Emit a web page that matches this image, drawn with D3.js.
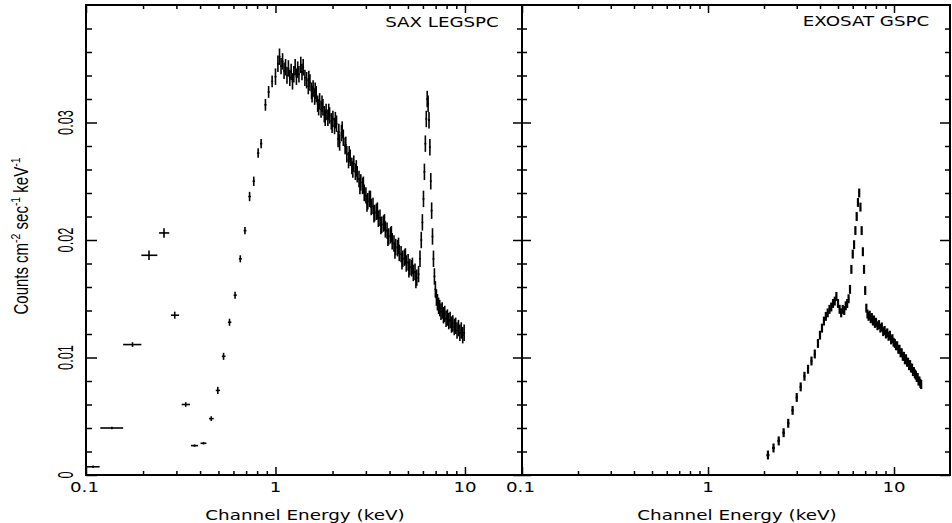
<!DOCTYPE html>
<html><head><meta charset="utf-8">
<script src="https://cdn.jsdelivr.net/npm/d3@7"></script>
<style>body{margin:0;background:#fff}svg{display:block}</style>
</head><body><svg id="c" width="952" height="523"></svg>
<script>
// ---------- data ----------
const xMajorTicks = [0.1, 1, 10];
const xMinorTicks = [0.2,0.3,0.4,0.5,0.6,0.7,0.8,0.9,2,3,4,5,6,7,8,9];
const xTickLabels = ["0.1", "1", "10"];
const yMajorTicks = [0, 0.01, 0.02, 0.03];
const yMinorTicks = [0.002,0.004,0.006,0.008,0.012,0.014,0.016,0.018,0.022,0.024,0.026,0.028,0.032,0.034,0.036,0.038];
const yTickLabels = ["0", "0.01", "0.02", "0.03"];
const panelTitles = ["SAX LEGSPC", "EXOSAT GSPC"];

// SAX LEGSPC – low-energy, wide bins
const saxLowE   = [0.109,0.137,0.176,0.215,0.258,0.294,0.336,0.374,0.417,0.458,0.496,0.532,0.572,0.612,0.652,0.690,0.730,0.768,0.810,0.840,0.885,0.920,0.960];
const saxLowC   = [0.0007,0.0040,0.0111,0.0187,0.0206,0.0136,0.0060,0.0025,0.0027,0.0048,0.0072,0.0101,0.0130,0.0153,0.0184,0.0208,0.0237,0.0250,0.0274,0.0282,0.0315,0.0326,0.0335];
const saxLowElo = [0.100,0.119,0.157,0.196,0.243,0.281,0.320,0.358,0.402,0.446,0.484,0.521,0.561,0.601,0.641,0.679,0.719,0.757,0.799,0.829,0.873,0.909,0.949];
const saxLowEhi = [0.118,0.157,0.196,0.238,0.275,0.310,0.354,0.390,0.432,0.472,0.510,0.545,0.585,0.625,0.664,0.703,0.742,0.780,0.822,0.852,0.897,0.932,0.972];
const saxLowErr = [0.0001,0.0001,0.0002,0.0004,0.0004,0.0003,0.0002,0.0001,0.0001,0.0002,0.0003,0.0003,0.0003,0.0003,0.0003,0.0003,0.0004,0.0004,0.0004,0.0004,0.0005,0.0005,0.0005];

// SAX LEGSPC – dense part 1–10 keV
const saxE = [1.00,1.03,1.05,1.07,1.09,1.11,1.13,1.15,1.17,1.19,1.21,1.23,1.25,1.27,1.29,1.31,1.33,1.36,1.38,1.40,1.43,1.46,1.49,1.52,1.55,1.58,1.61,1.64,1.67,1.71,1.74,1.78,1.81,1.85,1.89,1.93,1.97,2.01,2.05,2.10,2.14,2.18,2.23,2.28,2.33,2.38,2.43,2.48,2.53,2.59,2.64,2.70,2.76,2.82,2.88,2.94,3.00,3.07,3.13,3.20,3.27,3.34,3.41,3.49,3.56,3.64,3.72,3.80,3.88,3.96,4.05,4.13,4.22,4.31,4.41,4.50,4.60,4.70,4.80,4.90,5.01,5.12,5.23,5.34,5.45,5.57,5.69,5.79,5.88,5.96,6.04,6.11,6.18,6.25,6.32,6.39,6.46,6.53,6.60,6.67,6.74,6.82,6.90,6.98,7.07,7.16,7.26,7.36,7.47,7.58,7.70,7.82,7.95,8.08,8.21,8.35,8.49,8.63,8.78,8.93,9.08,9.24,9.40,9.56,9.73,9.90];
const saxC = [0.0339,0.0350,0.0356,0.0348,0.0352,0.0344,0.0347,0.0340,0.0346,0.0338,0.0343,0.0335,0.0341,0.0347,0.0339,0.0345,0.0341,0.0349,0.0343,0.0347,0.0338,0.0336,0.0331,0.0334,0.0327,0.0329,0.0322,0.0324,0.0316,0.0318,0.0311,0.0313,0.0307,0.0309,0.0304,0.0306,0.0301,0.0303,0.0297,0.0299,0.0286,0.0283,0.0291,0.0287,0.0280,0.0273,0.0268,0.0270,0.0263,0.0265,0.0258,0.0256,0.0252,0.0249,0.0246,0.0240,0.0238,0.0233,0.0235,0.0228,0.0229,0.0223,0.0224,0.0218,0.0219,0.0213,0.0214,0.0209,0.0208,0.0203,0.0204,0.0199,0.0197,0.0194,0.0193,0.0189,0.0188,0.0184,0.0185,0.0180,0.0181,0.0177,0.0176,0.0172,0.0173,0.0168,0.0171,0.0184,0.0200,0.0215,0.0235,0.0258,0.0282,0.0303,0.0320,0.0316,0.0302,0.0279,0.0250,0.0225,0.0203,0.0184,0.0169,0.0158,0.0151,0.0147,0.0144,0.0142,0.0139,0.0140,0.0136,0.0137,0.0133,0.0134,0.0131,0.0132,0.0128,0.0129,0.0126,0.0127,0.0123,0.0125,0.0121,0.0123,0.0119,0.0121];
// second, overlapping SAX strand (1.5–5.5 keV)
const saxE2 = [1.50,1.56,1.62,1.69,1.76,1.83,1.91,1.99,2.07,2.16,2.25,2.35,2.45,2.56,2.67,2.79,2.91,3.04,3.17,3.31,3.45,3.60,3.76,3.92,4.09,4.27,4.46,4.65,4.85,5.06,5.28,5.51];
const saxC2 = [0.0337,0.0324,0.0327,0.0313,0.0316,0.0304,0.0309,0.0298,0.0302,0.0292,0.0294,0.0281,0.0273,0.0260,0.0261,0.0246,0.0247,0.0231,0.0235,0.0222,0.0225,0.0212,0.0215,0.0202,0.0205,0.0191,0.0195,0.0182,0.0186,0.0175,0.0178,0.0166];
const saxErr = 0.0007;
const saxHalfBinDex = 0.005;

// EXOSAT GSPC
const gspcE = [2.10,2.25,2.40,2.55,2.70,2.85,3.00,3.15,3.30,3.45,3.60,3.75,3.90,4.0,4.1,4.2,4.3,4.4,4.5,4.6,4.7,4.8,4.9,5.0,5.1,5.2,5.3,5.4,5.5,5.6,5.7,5.8,5.9,6.0,6.1,6.2,6.3,6.4,6.5,6.6,6.7,6.8,6.9,7.0,7.1,7.2,7.3,7.4,7.5,7.6,7.7,7.8,7.9,8.0,8.15,8.3,8.45,8.6,8.75,8.9,9.05,9.2,9.35,9.5,9.65,9.8,9.95,10.1,10.25,10.4,10.55,10.7,10.85,11.0,11.15,11.3,11.45,11.6,11.75,11.9,12.05,12.2,12.35,12.5,12.65,12.8,12.95,13.1,13.25,13.4,13.55,13.7,13.85,14.0];
const gspcC = [0.0017,0.0023,0.0029,0.0036,0.0044,0.0055,0.0066,0.0075,0.0084,0.0090,0.0097,0.0103,0.0112,0.0119,0.0125,0.0131,0.0135,0.0138,0.0141,0.0143,0.0146,0.0148,0.0152,0.0146,0.0141,0.0138,0.0141,0.0140,0.0144,0.0146,0.0150,0.0158,0.0175,0.0188,0.0196,0.0208,0.0220,0.0232,0.0240,0.0228,0.0208,0.0190,0.0175,0.0157,0.0142,0.0137,0.0135,0.0136,0.0133,0.0134,0.0131,0.0132,0.0129,0.0130,0.0127,0.0128,0.0125,0.0126,0.0122,0.0123,0.0120,0.0121,0.0118,0.0119,0.0115,0.0116,0.0113,0.0112,0.0110,0.0110,0.0107,0.0107,0.0104,0.0104,0.0101,0.0101,0.0098,0.0099,0.0096,0.0096,0.0093,0.0094,0.0091,0.0091,0.0088,0.0088,0.0086,0.0085,0.0083,0.0083,0.0080,0.0080,0.0078,0.0077];
const gspcErr = 0.00038;
const gspcHalfBin = 0.04;

// ---------- drawing ----------
const svg = d3.select("#c");
const yTop = 5, yBot = 475;
const y = d3.scaleLinear().domain([0, 0.04]).range([yBot, yTop]);
const xL = d3.scaleLog().domain([0.1, 20]).range([86, 522]);
const xR = d3.scaleLog().domain([0.1, 20]).range([522, 950]);
const ink = "#000";
const textFont = "'DejaVu Sans', sans-serif";

function noDomain(g){ g.select(".domain").remove(); g.selectAll(".tick line").attr("stroke", ink).attr("stroke-width", 1.5); }

function frame(xs, leftIn, rightIn) {
  const [x0, x1] = xs.range();
  const g = svg.append("g");
  g.append("g").attr("transform", `translate(0,${yBot})`).call(d3.axisBottom(xs).tickValues(xMajorTicks).tickSize(-8).tickFormat("")).call(noDomain);
  g.append("g").attr("transform", `translate(0,${yBot})`).call(d3.axisBottom(xs).tickValues(xMinorTicks).tickSize(-4).tickFormat("")).call(noDomain);
  g.append("g").attr("transform", `translate(0,${yTop})`).call(d3.axisTop(xs).tickValues(xMajorTicks).tickSize(-8).tickFormat("")).call(noDomain);
  g.append("g").attr("transform", `translate(0,${yTop})`).call(d3.axisTop(xs).tickValues(xMinorTicks).tickSize(-4).tickFormat("")).call(noDomain);
  g.append("g").attr("transform", `translate(${x0},0)`).call(d3.axisLeft(y).tickValues(yMajorTicks).tickSize(-leftIn[0]).tickFormat("")).call(noDomain);
  g.append("g").attr("transform", `translate(${x0},0)`).call(d3.axisLeft(y).tickValues(yMinorTicks).tickSize(-leftIn[1]).tickFormat("")).call(noDomain);
  g.append("g").attr("transform", `translate(${x1},0)`).call(d3.axisRight(y).tickValues(yMajorTicks).tickSize(-rightIn[0]).tickFormat("")).call(noDomain);
  g.append("g").attr("transform", `translate(${x1},0)`).call(d3.axisRight(y).tickValues(yMinorTicks).tickSize(-rightIn[1]).tickFormat("")).call(noDomain);
  g.append("rect").attr("x", x0).attr("y", yTop).attr("width", x1 - x0).attr("height", yBot - yTop)
    .attr("fill", "none").attr("stroke", ink).attr("stroke-width", 2);
  xMajorTicks.forEach((v, i) => {
    g.append("text").attr("transform", `translate(${xs(v) - (i === 0 ? 1.5 : 0)},${492}) scale(1.35,1)`)
      .attr("text-anchor", "middle").attr("font-family", textFont).attr("font-size", 13.5)
      .attr("fill", ink).text(xTickLabels[i]);
  });
  g.append("text").attr("transform", `translate(${(x0 + x1) / 2 + 1},${520}) scale(1.36,1)`)
    .attr("text-anchor", "middle").attr("font-family", textFont).attr("font-size", 13.5)
    .attr("fill", ink).text("Channel Energy (keV)");
  return g;
}

frame(xL, [11, 6], [9, 5]);
frame(xR, [9, 5], [10, 5]);

yMajorTicks.forEach((v, i) => {
  svg.append("text").attr("transform", `translate(65.5,${y(v)}) rotate(-90) scale(1,1.7)`)
    .attr("text-anchor", "middle").attr("dy", "0.36em")
    .attr("font-family", "'Liberation Sans', Arial, sans-serif").attr("font-size", 12.8)
    .attr("fill", ink).text(yTickLabels[i]);
});

const yt = svg.append("text").attr("transform", `translate(21,236) rotate(-90) scale(1,1.3)`)
  .attr("text-anchor", "middle").attr("dy", "0.36em")
  .attr("font-family", "'Liberation Sans', Arial, sans-serif").attr("font-size", 15).attr("fill", ink);
yt.append("tspan").text("Counts cm");
yt.append("tspan").attr("dy", -6).attr("font-size", 10.5).text("-2");
yt.append("tspan").attr("dy", 6).text(" sec");
yt.append("tspan").attr("dy", -6).attr("font-size", 10.5).text("-1");
yt.append("tspan").attr("dy", 6).text(" keV");
yt.append("tspan").attr("dy", -6).attr("font-size", 10.5).text("-1");

svg.append("text").attr("transform", `translate(442,27) scale(1.35,1)`).attr("text-anchor", "middle")
  .attr("font-family", textFont).attr("font-size", 13.5).attr("fill", ink).text(panelTitles[0]);
svg.append("text").attr("transform", `translate(866,26) scale(1.35,1)`).attr("text-anchor", "middle")
  .attr("font-family", textFont).attr("font-size", 13.5).attr("fill", ink).text(panelTitles[1]);

function crosses(g, pts, xs, sw) {
  const sel = g.selectAll(null).data(pts).enter().append("g");
  sel.append("line").attr("x1", d => xs(d.lo)).attr("x2", d => xs(d.hi))
    .attr("y1", d => y(d.c)).attr("y2", d => y(d.c)).attr("stroke", ink).attr("stroke-width", sw);
  sel.append("line").attr("x1", d => xs(d.e)).attr("x2", d => xs(d.e))
    .attr("y1", d => y(d.c - d.err)).attr("y2", d => y(d.c + d.err)).attr("stroke", ink).attr("stroke-width", sw);
}

const gL = svg.append("g");
const lowPts = saxLowE.map((e, i) => ({e, c: saxLowC[i], lo: saxLowElo[i], hi: saxLowEhi[i], err: saxLowErr[i]}));
crosses(gL, lowPts, xL, 1.6);
const f = Math.pow(10, saxHalfBinDex);
const densePts = saxE.map((e, i) => ({e, c: saxC[i], lo: e / f, hi: e * f, err: saxErr}));
crosses(gL, densePts, xL, 1.6);
const densePts2 = saxE2.map((e, i) => ({e, c: saxC2[i], lo: e / f, hi: e * f, err: saxErr}));
crosses(gL, densePts2, xL, 1.6);

const gR = svg.append("g");
const gPts = gspcE.map((e, i) => ({e, c: gspcC[i], lo: e - gspcHalfBin, hi: e + gspcHalfBin, err: gspcErr}));
crosses(gR, gPts, xR, 2.2);
</script>
</body></html>
